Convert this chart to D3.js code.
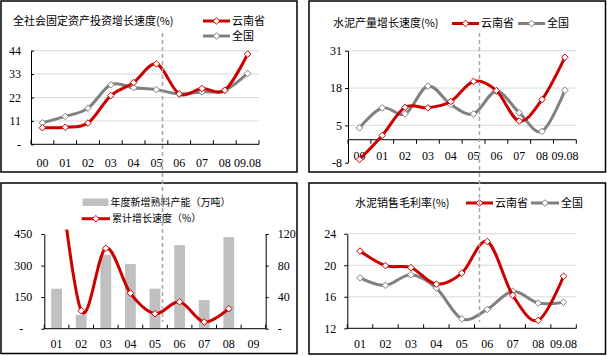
<!DOCTYPE html>
<html><head><meta charset="utf-8">
<script src="https://cdn.jsdelivr.net/npm/d3@7"></script>
<style>body{margin:0;background:#fff} svg{display:block}</style>
</head><body>
<script>
// ---------- DATA ----------
const cats1 = ["00","01","02","03","04","05","06","07","08","09.08"];
const invYunnan = [7.8, 8, 10, 22.9, 29, 37.8, 23.7, 26.2, 25.4, 42.4];
const invChina  = [10.1, 13.1, 17, 28, 26.6, 25.7, 23.7, 24.6, 25.4, 33.3];
const invTicks = [0, 11, 22, 33, 44];

const cats2 = ["00","01","02","03","04","05","06","07","08","09.08"];
const cementYunnan = [-6.9, 1.5, 11.3, 11.1, 13.3, 20.3, 17.1, 6.5, 14, 28.7];
const cementChina  = [4.1, 11.1, 9, 18.7, 12.3, 9, 16.9, 9.4, 2.9, 17.2];
const cementTicks = [-8, 5, 18, 31];

const cats3 = ["01","02","03","04","05","06","07","08","09"];
const clinkerCapacity = [190, 66, 351, 307, 190, 397, 136, 435, 0];
const clinkerGrowth = [230, 22.8, 102, 45, 19, 34, 8.5, 25.3, null];
const capacityTicks = [0, 150, 300, 450];
const growthTicks = [0, 40, 80, 120];

const cats4 = ["01","02","03","04","05","06","07","08","09.08"];
const marginYunnan = [21.8, 19.95, 19.7, 17.6, 19.0, 23.0, 16.2, 13.0, 18.6];
const marginChina  = [18.4, 17.45, 18.8, 17.1, 13.2, 14.4, 16.7, 15.2, 15.3];
const marginTicks = [12, 16, 20, 24];

const nameYunnan = "云南省", nameChina = "全国";

// ---------- STYLE ----------
const RED = "#cc0000", GREY = "#808080", BAR = "#c0c0c0", GRID = "#d9d9d9";
const numFont = "'Liberation Serif','Times New Roman',serif";
const cjkFont = "'Noto Sans CJK SC','Noto Sans',sans-serif";
const curve = d3.curveCardinal.tension(0);
const fmt = d => d === 0 ? "-" : String(d);
const diamond = r => `M0,${-r}L${r},0L0,${r}L${-r},0Z`;

const svg = d3.select("body").append("svg").attr("width", 607).attr("height", 356);

function frame(x0, y0, x1, y1) {
  svg.append("rect").attr("x", x0).attr("y", y0).attr("width", x1 - x0).attr("height", y1 - y0)
    .attr("fill", "none").attr("stroke", "#000").attr("stroke-width", 1.5);
}

function drawSeries(g, x, y, cats, vals, color, clip) {
  const pts = cats.map((c, i) => ({ c, v: vals[i] })).filter(d => d.v != null);
  const cx = d => x(d.c) + x.bandwidth() / 2;
  const p = g.append("path").datum(pts).attr("fill", "none").attr("stroke", color)
    .attr("stroke-width", 3).attr("stroke-linejoin", "round").attr("stroke-linecap", "round")
    .attr("d", d3.line().x(cx).y(d => y(d.v)).curve(curve));
  if (clip) p.attr("clip-path", clip);
  g.selectAll(null).data(pts.filter(d => y(d.v) >= y.range()[1] - 1)).enter().append("path")
    .attr("d", diamond(3.3))
    .attr("transform", d => `translate(${cx(d)},${y(d.v)})`)
    .attr("fill", "#fff").attr("stroke", color).attr("stroke-width", 1);
}

function yAxis(g, y, ticks, xPos, side, pad, tickSize) {
  const ax = (side === "left" ? d3.axisLeft(y) : d3.axisRight(y))
    .tickValues(ticks).tickFormat(fmt).tickSize(tickSize).tickSizeOuter(0).tickPadding(pad);
  const a = g.append("g").attr("transform", `translate(${xPos},0)`).call(ax);
  a.select(".domain").attr("stroke", "#000").attr("stroke-width", 1);
  a.selectAll(".tick line").attr("stroke", "#000");
  a.selectAll("text").attr("font-family", numFont).attr("font-size", 12).attr("fill", "#000");
  return a;
}

function grid(g, y, ticks, x0, x1) {
  g.selectAll(null).data(ticks).enter().append("line")
    .attr("x1", x0).attr("x2", x1).attr("y1", d => y(d)).attr("y2", d => y(d))
    .attr("stroke", GRID).attr("stroke-width", 1);
}

function xAxis(g, x, axisY, labelY, tickDir) {
  const [r0, r1] = x.range();
  g.append("line").attr("x1", r0).attr("x2", r1).attr("y1", axisY).attr("y2", axisY)
    .attr("stroke", "#000").attr("stroke-width", 1);
  const bounds = x.domain().map(c => x(c)).concat([r1]);
  g.selectAll(null).data(bounds).enter().append("line")
    .attr("x1", d => d).attr("x2", d => d).attr("y1", axisY).attr("y2", axisY + tickDir * 4)
    .attr("stroke", "#000");
  const la = g.append("g").attr("transform", `translate(0,${labelY - 4.3})`)
    .call(d3.axisBottom(x).tickSize(0).tickPadding(0));
  la.select(".domain").remove();
  la.selectAll("text").attr("font-family", numFont).attr("font-size", 12).attr("fill", "#000");
}

function legendLine(g, x0, x1, y, color, label, fs) {
  g.append("line").attr("x1", x0).attr("x2", x1).attr("y1", y).attr("y2", y)
    .attr("stroke", color).attr("stroke-width", 3);
  g.append("path").attr("d", diamond(3.3)).attr("transform", `translate(${(x0 + x1) / 2},${y})`)
    .attr("fill", "#fff").attr("stroke", color);
  g.append("text").attr("x", x1 + 2).attr("y", y).attr("dy", "0.36em")
    .attr("font-family", cjkFont).attr("font-size", fs || 11).attr("fill", "#000").text(label);
}

function title(g, x, y, t) {
  g.append("text").attr("x", x).attr("y", y).attr("dy", "0.36em")
    .attr("font-family", cjkFont).attr("font-size", 11).attr("fill", "#000").text(t);
}

// ---------- PANEL FRAMES ----------
frame(1, 1, 297, 172);
frame(309, 1, 605.5, 172);
frame(1, 183, 297, 353.5);
frame(309, 183, 605.5, 354);

// ---------- PANEL 1 ----------
{
  const g = svg.append("g");
  const x = d3.scaleBand().domain(cats1).range([31, 259]).padding(0);
  const y = d3.scaleLinear().domain([0, 44]).range([144.3, 50.7]);
  grid(g, y, invTicks.filter(d => d > 0), 31, 259);
  const a = yAxis(g, y, invTicks, 31, "left", 8, -3);
  a.selectAll("text").attr("x", -10);
  xAxis(g, x, 144.3, 162.7, -1);
  drawSeries(g, x, y, cats1, invChina, GREY);
  drawSeries(g, x, y, cats1, invYunnan, RED);
  title(g, 13, 21, "全社会固定资产投资增长速度(%)");
  legendLine(g, 203, 230, 21, RED, nameYunnan);
  legendLine(g, 203, 230, 36, GREY, nameChina);
}

// ---------- PANEL 2 ----------
{
  const g = svg.append("g");
  const x = d3.scaleBand().domain(cats2).range([348, 576.3]).padding(0);
  const y = d3.scaleLinear().domain([-8, 31]).range([162.7, 50.7]);
  grid(g, y, cementTicks.filter(d => d > -8), 348, 576.3);
  yAxis(g, y, cementTicks, 348, "left", 3, 3);
  xAxis(g, x, y(0), 156, 1);
  drawSeries(g, x, y, cats2, cementChina, GREY);
  drawSeries(g, x, y, cats2, cementYunnan, RED);
  title(g, 333, 23, "水泥产量增长速度(%)");
  legendLine(g, 452, 479, 23.5, RED, nameYunnan);
  legendLine(g, 518, 545, 23.5, GREY, nameChina);
}

// ---------- PANEL 3 ----------
{
  const g = svg.append("g");
  const x = d3.scaleBand().domain(cats3).range([44.3, 265.7]).padding(0);
  const yL = d3.scaleLinear().domain([0, 450]).range([328.7, 234]);
  const yR = d3.scaleLinear().domain([0, 120]).range([328.7, 234]);
  svg.append("clipPath").attr("id", "clip3").append("rect")
    .attr("x", 44.3).attr("y", 229.5).attr("width", 221.4).attr("height", 110);
  g.selectAll(null).data(cats3.map((c, i) => ({ c, v: clinkerCapacity[i] })).filter(d => d.v > 0))
    .enter().append("rect")
    .attr("x", d => x(d.c) + x.bandwidth() * 0.28).attr("width", x.bandwidth() * 0.44)
    .attr("y", d => yL(d.v)).attr("height", d => yL(0) - yL(d.v)).attr("fill", BAR);
  const aL = yAxis(g, yL, capacityTicks, 44.3, "left", 9, 3);
  aL.selectAll(".tick").filter(d => d === 0).select("text").attr("x", -21);
  const aR = yAxis(g, yR, growthTicks, 265.7, "right", 9, 3);
  aR.selectAll(".tick").filter(d => d === 0).select("text").attr("x", 12);
  xAxis(g, x, 328.7, 343.7, -1);
  drawSeries(g, x, yR, cats3, clinkerGrowth, RED, "url(#clip3)");
  g.append("rect").attr("x", 82.7).attr("y", 198.5).attr("width", 25.6).attr("height", 7.5).attr("fill", BAR);
  g.append("text").attr("x", 110.5).attr("y", 202).attr("dy", "0.36em")
    .attr("font-family", cjkFont).attr("font-size", 10).attr("fill", "#000").text("年度新增熟料产能（万吨）");
  legendLine(g, 81.7, 110, 218.7, RED, "累计增长速度（%）", 10);
}

// ---------- PANEL 4 ----------
{
  const g = svg.append("g");
  const x = d3.scaleBand().domain(cats4).range([347.3, 576.3]).padding(0);
  const y = d3.scaleLinear().domain([12, 24]).range([328.3, 233.7]);
  grid(g, y, marginTicks.filter(d => d > 12), 347.3, 576.3);
  yAxis(g, y, marginTicks, 347.3, "left", 8, 3);
  xAxis(g, x, 328.3, 344, -1);
  drawSeries(g, x, y, cats4, marginChina, GREY);
  drawSeries(g, x, y, cats4, marginYunnan, RED);
  title(g, 355, 203, "水泥销售毛利率(%)");
  legendLine(g, 466, 493, 203, RED, nameYunnan);
  legendLine(g, 531, 559, 203, GREY, nameChina);
}

// ---------- DASHED DIVIDERS ----------
[162.5, 479.5].forEach(xv => {
  svg.append("line").attr("x1", xv).attr("x2", xv).attr("y1", 33).attr("y2", 322)
    .attr("stroke", "#a6a6a6").attr("stroke-width", 1.5).attr("stroke-dasharray", "4,3");
});
</script>
</body></html>
